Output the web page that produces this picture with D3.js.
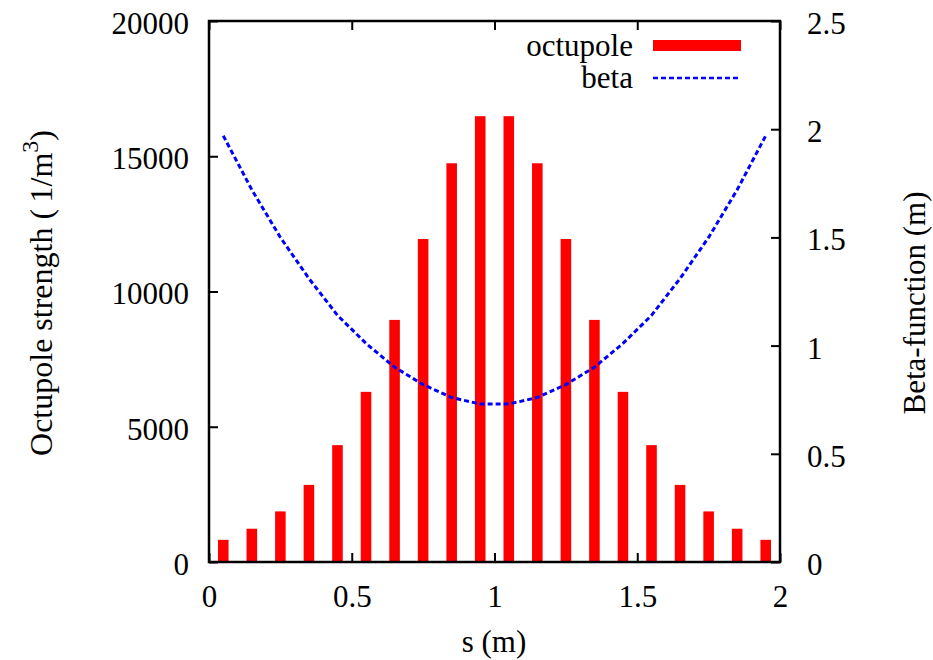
<!DOCTYPE html>
<html>
<head>
<meta charset="utf-8">
<script src="https://cdn.jsdelivr.net/npm/d3@7"></script>
<style>
body { margin: 0; background: #fff; }
text { font-family: "Liberation Serif", "DejaVu Serif", serif; fill: #000; }
</style>
</head>
<body>
<svg width="933" height="660"></svg>
<script>
// octupole strengths, one bar per element (1/m^3)
var sPos = [0.05, 0.15, 0.25, 0.35, 0.45, 0.55, 0.65, 0.75, 0.85, 0.95,
            1.05, 1.15, 1.25, 1.35, 1.45, 1.55, 1.65, 1.75, 1.85, 1.95];
var octupole = [820, 1230, 1870, 2850, 4320, 6290, 8950, 11940, 14740, 16480,
                16480, 14740, 11940, 8950, 6290, 4320, 2850, 1870, 1230, 820];
// beta-function (m), sampled at the same s
var beta = [1.97, 1.72, 1.50, 1.31, 1.14, 1.01, 0.90, 0.82, 0.76, 0.73,
            0.73, 0.76, 0.82, 0.90, 1.01, 1.14, 1.31, 1.50, 1.72, 1.97];

var xTicks = [0, 0.5, 1, 1.5, 2];
var yTicks = [0, 5000, 10000, 15000, 20000];
var y2Ticks = [0, 0.5, 1, 1.5, 2, 2.5];

// plot box (px)
var pLeft = 209, pRight = 780, pTop = 21, pBottom = 562;
var fontSize = 31;

var svg = d3.select("svg");

var x = d3.scaleLinear().domain([0, 2]).range([pLeft, pRight]);
var y = d3.scaleLinear().domain([0, 20000]).range([pBottom, pTop]);
var y2 = d3.scaleLinear().domain([0, 2.5]).range([pBottom, pTop]);

var fmt = function(d) { return String(d); };

//Bars
var barW = x(0.037) - x(0);
svg.selectAll("rect.bar")
    .data(sPos)
    .enter()
    .append("rect")
    .attr("class", "bar")
    .attr("x", function(d) { return x(d) - barW / 2; })
    .attr("y", function(d, i) { return y(octupole[i]); })
    .attr("width", barW)
    .attr("height", function(d, i) { return pBottom - y(octupole[i]); })
    .attr("fill", "#ff0000");

//Beta line
var line = d3.line()
    .x(function(d, i) { return x(sPos[i]); })
    .y(function(d) { return y2(d); });

svg.append("path")
    .datum(beta)
    .attr("d", line)
    .attr("fill", "none")
    .attr("stroke", "#0000ff")
    .attr("stroke-width", 3)
    .attr("stroke-dasharray", "5,3");

//Axis
function styleAxis(g) {
    g.select(".domain").remove();
    g.selectAll(".tick line").attr("stroke", "#000").attr("stroke-width", 2);
    g.selectAll(".tick text").attr("font-size", fontSize)
        .attr("font-family", "Liberation Serif, serif").attr("fill", "#000");
}

svg.append("g")
    .attr("transform", "translate(0," + pBottom + ")")
    .call(d3.axisBottom(x).tickValues(xTicks).tickFormat(fmt).tickSize(-9).tickPadding(23))
    .call(styleAxis);

svg.append("g")
    .attr("transform", "translate(0," + pTop + ")")
    .call(d3.axisTop(x).tickValues(xTicks).tickFormat("").tickSize(-9))
    .call(styleAxis);

svg.append("g")
    .attr("transform", "translate(" + pLeft + ",0)")
    .call(d3.axisLeft(y).tickValues(yTicks).tickFormat(fmt).tickSize(-9).tickPadding(20))
    .call(styleAxis)
    .selectAll(".tick text").attr("dy", "0.4em");

svg.append("g")
    .attr("transform", "translate(" + pRight + ",0)")
    .call(d3.axisRight(y2).tickValues(y2Ticks).tickFormat(fmt).tickSize(-9).tickPadding(27))
    .call(styleAxis)
    .selectAll(".tick text").attr("dy", "0.4em");

// frame
svg.append("rect")
    .attr("x", pLeft).attr("y", pTop)
    .attr("width", pRight - pLeft).attr("height", pBottom - pTop)
    .attr("fill", "none").attr("stroke", "#000").attr("stroke-width", 2.5);

// axis titles
svg.append("text")
    .attr("x", 494).attr("y", 652)
    .attr("text-anchor", "middle")
    .attr("font-size", fontSize)
    .text("s (m)");

var yl = svg.append("text")
    .attr("transform", "translate(52,293) rotate(-90)")
    .attr("text-anchor", "middle")
    .attr("font-size", 32);
yl.append("tspan").text("Octupole strength (\u20091/m");
yl.append("tspan").attr("font-size", 24).attr("dy", -14).text("3");
yl.append("tspan").attr("dy", 14).text(")");

svg.append("text")
    .attr("transform", "translate(925,303) rotate(-90)")
    .attr("text-anchor", "middle")
    .attr("font-size", fontSize)
    .text("Beta-function (m)");

// legend
svg.append("text")
    .attr("x", 633).attr("y", 56)
    .attr("text-anchor", "end")
    .attr("font-size", fontSize)
    .text("octupole");
svg.append("rect")
    .attr("x", 653).attr("y", 40).attr("width", 88).attr("height", 11)
    .attr("fill", "#ff0000");

svg.append("text")
    .attr("x", 633).attr("y", 88)
    .attr("text-anchor", "end")
    .attr("font-size", fontSize)
    .text("beta");
svg.append("line")
    .attr("x1", 653).attr("x2", 741).attr("y1", 78).attr("y2", 78)
    .attr("stroke", "#0000ff").attr("stroke-width", 2.5)
    .attr("stroke-dasharray", "5,3");
</script>
</body>
</html>
